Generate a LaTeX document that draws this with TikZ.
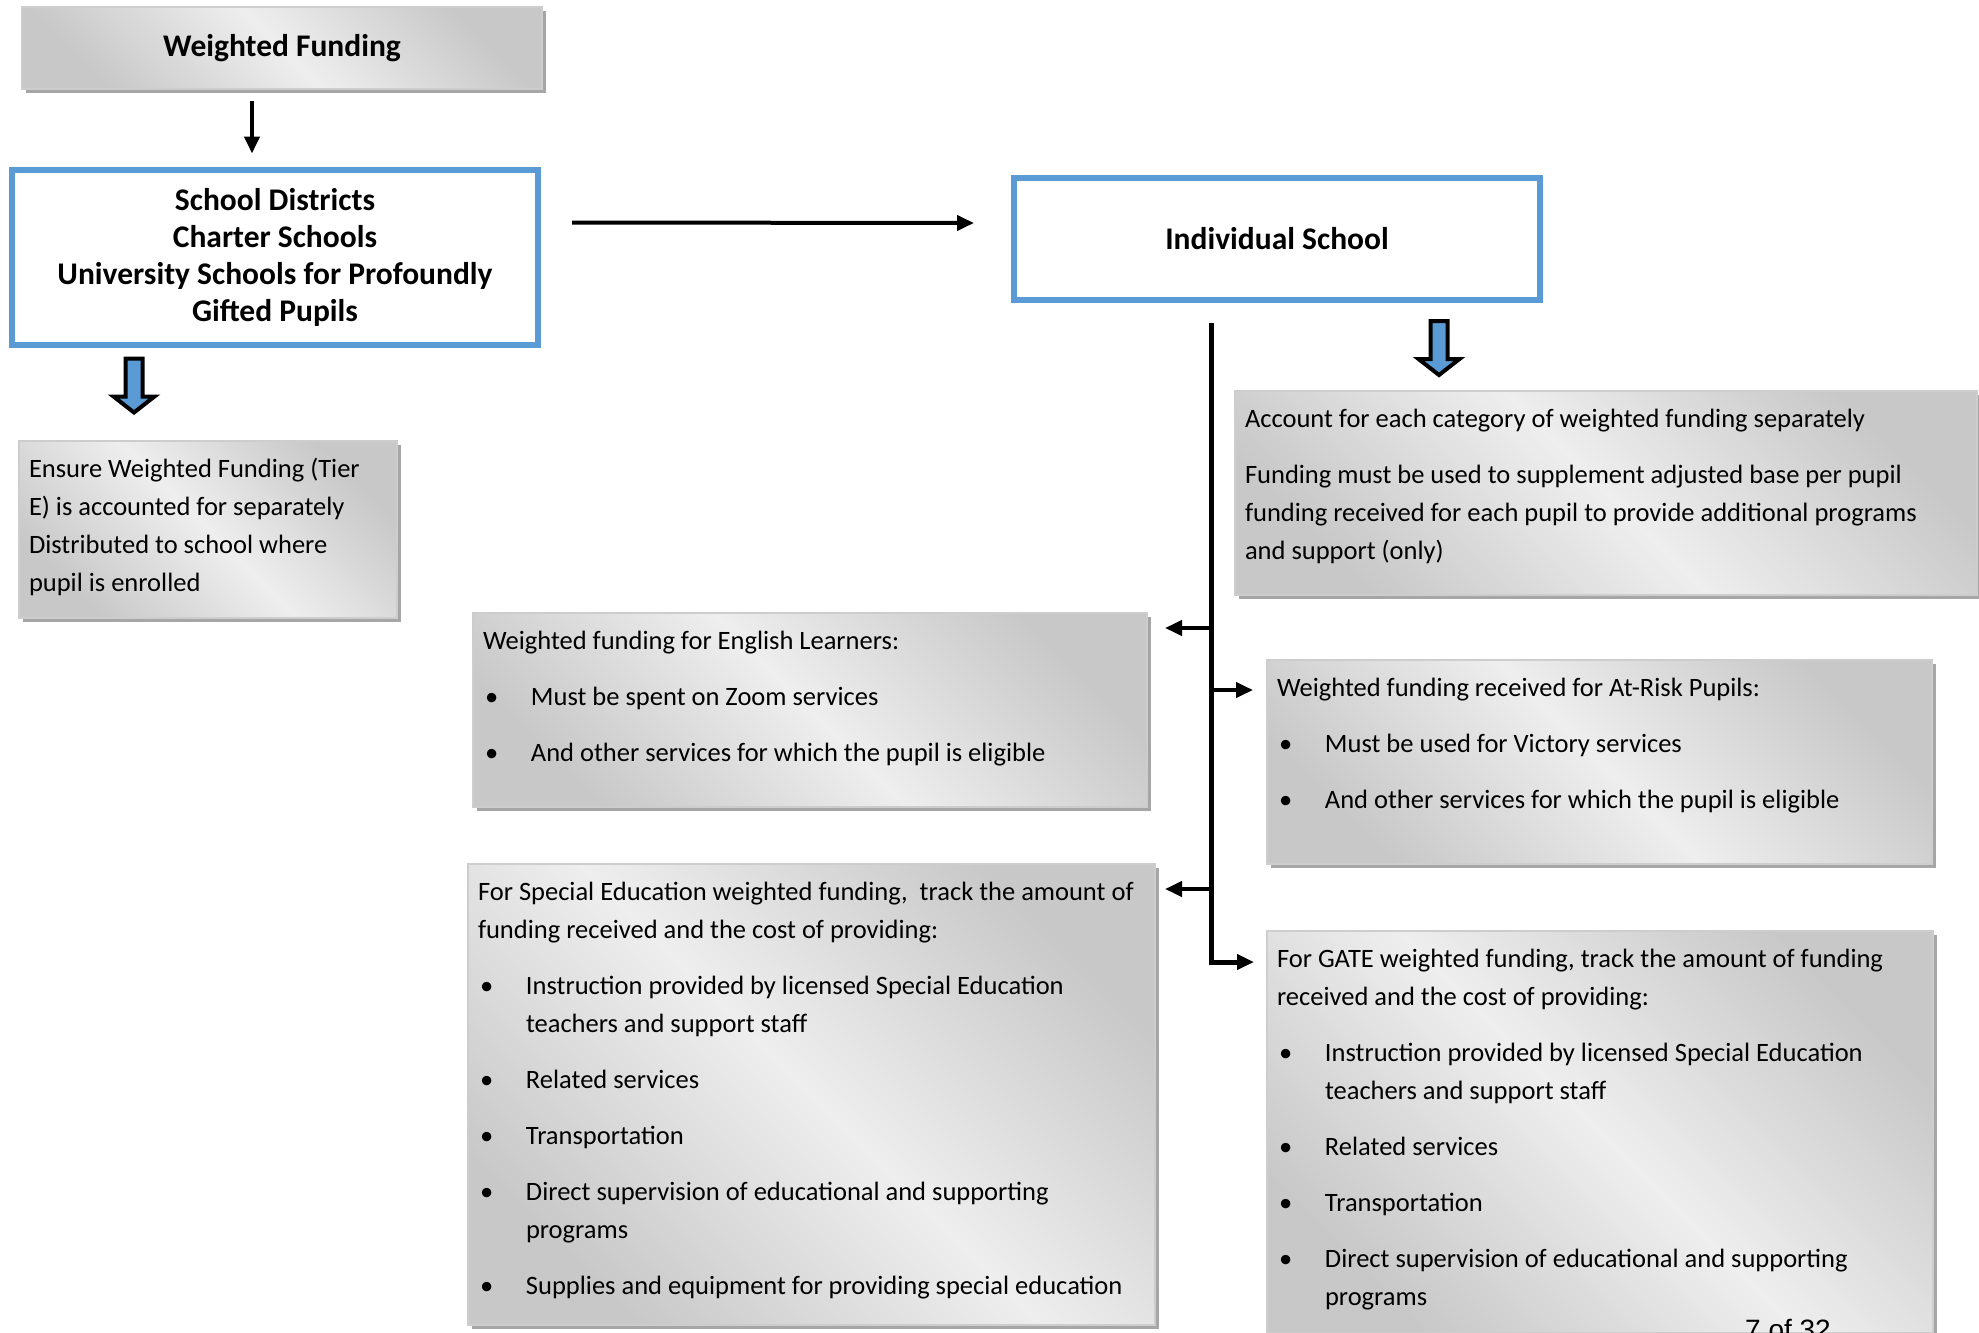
\documentclass[tikz,border=0pt]{standalone}
\usepackage{fontspec}
\setmainfont{Carlito}
\newfontfamily\pagefont{Liberation Sans}
\usetikzlibrary{arrows.meta,calc,shadows}
\definecolor{schoolblue}{RGB}{91,155,213}
\definecolor{shadeedge}{RGB}{200,200,200}
\definecolor{shademid}{RGB}{238,238,238}
\definecolor{noteline}{RGB}{205,205,205}
\definecolor{noteshadow}{RGB}{166,166,166}

\newcommand{\bodyfont}{\fontsize{26.5}{38}\selectfont}
\newcommand{\headfont}{\fontsize{31.5}{37}\selectfont\bfseries}
% text of a gray note: width, height, content
\newcommand{\notetext}[3]{\parbox[t][#2][t]{#1}{\setlength{\parskip}{18pt}\raggedright\bodyfont\rule{0pt}{36.5pt}#3}}
\newcommand{\itm}[1]{\par\hangindent=48pt\hangafter=1\noindent\makebox[48pt][l]{\hspace{2pt}\textbullet}#1}
\newcommand{\blockarrow}[1]{\draw[bluearrow] #1 ++(-8.5,0) -- ++(0,38) -- ++(-12,0) -- ++(20.5,16) -- ++(20.5,-16) -- ++(-12,0) -- ++(0,-38) -- cycle;}

\begin{document}
\begin{tikzpicture}[
  x=1pt, y=-1pt,
  grayfill/.style={draw=noteline, line width=2pt, top color=shadeedge, bottom color=shadeedge, middle color=shademid, shading angle=-45,
    drop shadow={shadow xshift=4pt, shadow yshift=-4pt, fill=noteshadow, opacity=1}},
  note/.style={grayfill, anchor=north west, inner xsep=10pt, inner ysep=0pt},
  title/.style={grayfill, minimum width=520, minimum height=82, font=\headfont},
  school/.style={draw=schoolblue, line width=6pt, fill=white, align=center, font=\headfont},
  arr/.style={-{Triangle[length=17pt,width=15pt]}, line width=4pt},
  bluearrow/.style={draw=black, line width=4pt, fill=schoolblue}
]
\useasboundingbox (0,0) rectangle (1979,1333);

% top row
\node[title] (wf) at (282,48) {Weighted Funding};
\node[school, minimum width=526, minimum height=175] (sd) at (275,257) {School Districts\\Charter Schools\\University Schools for Profoundly\\Gifted Pupils};
\node[school, minimum width=526, minimum height=122] (is) at (1277,239) {Individual School};
\draw[arr] ($(wf.south west)+(231,11)$) -- ($(sd.north west)+(243,-13)$);
\draw[arr] ($(sd.north east)+(31,56)$) -- ($(is.west)+(-37,-16)$);
\blockarrow{($(sd.south west)+(125,11)$)}
\blockarrow{($(is.south west)+(428,18)$)}

% notes
\node[note] (ens) at (18,440) {\notetext{358pt}{177pt}{Ensure Weighted Funding (Tier\newline E) is accounted for separately\newline Distributed to school where\newline pupil is enrolled}};
\node[note] (acc) at (1234,390) {\notetext{722pt}{204pt}{Account for each category of weighted funding separately\par Funding must be used to supplement adjusted base per pupil\newline funding received for each pupil to provide additional programs\newline and support (only)}};
\node[note] (el) at (472,612) {\notetext{654pt}{194pt}{Weighted funding for English Learners:
  \itm{Must be spent on Zoom services}
  \itm{And other services for which the pupil is eligible}}};
\node[note] (ar) at (1266,659) {\notetext{645pt}{204pt}{Weighted funding received for At-Risk Pupils:
  \itm{Must be used for Victory services}
  \itm{And other services for which the pupil is eligible}}};
\node[note] (se) at (467,863) {\notetext{667pt}{461pt}{For Special Education weighted funding, \ track the amount of\newline funding received and the cost of providing:
  \itm{Instruction provided by licensed Special Education\newline teachers and support staff}
  \itm{Related services}
  \itm{Transportation}
  \itm{Direct supervision of educational and supporting\newline programs}
  \itm{Supplies and equipment for providing special education}}};
\node[note] (gate) at (1266,930) {\notetext{646pt}{402pt}{For GATE weighted funding, track the amount of funding\newline received and the cost of providing:
  \itm{Instruction provided by licensed Special Education\newline teachers and support staff}
  \itm{Related services}
  \itm{Transportation}
  \itm{Direct supervision of educational and supporting\newline programs}}};
\node[font=\pagefont\fontsize{28}{30}\selectfont, anchor=base west, inner sep=0pt] (pageno) at (1745,1339) {7 of 32};

% branches from the individual school
\coordinate (trunktop) at ($(is.south west)+(200,20)$);
\coordinate (elin) at ($(el.north east)+(17,16)$);
\coordinate (arin) at ($(ar.north west)+(-13,31)$);
\coordinate (sein) at ($(se.north east)+(9,26)$);
\coordinate (gatein) at ($(gate.north west)+(-12,32)$);
\draw[arr, line width=5pt] (trunktop) |- (gatein);
\draw[arr] (trunktop |- elin) -- (elin);
\draw[arr] (trunktop |- arin) -- (arin);
\draw[arr] (trunktop |- sein) -- (sein);
\end{tikzpicture}
\end{document}
